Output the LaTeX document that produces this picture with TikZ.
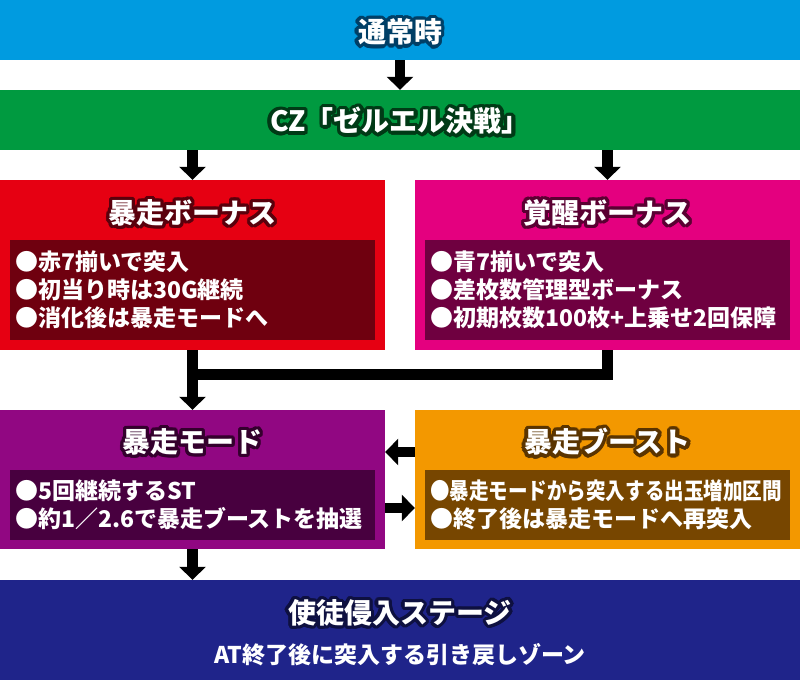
\documentclass[tikz,border=0pt]{standalone}
\usepackage{fontspec}
\setmainfont{Noto Sans CJK JP}
\usepackage{graphicx}
\usetikzlibrary{arrows.meta}
\definecolor{tsujoC}{HTML}{009BE0}
\definecolor{tsujoD}{HTML}{003F66}
\definecolor{czC}{HTML}{009A40}
\definecolor{czD}{HTML}{003A16}
\definecolor{bosoC}{HTML}{E60012}
\definecolor{bosoIn}{HTML}{6F000F}
\definecolor{bosoD}{HTML}{5A000C}
\definecolor{kakuseiC}{HTML}{E4007F}
\definecolor{kakuseiIn}{HTML}{6F0040}
\definecolor{kakuseiD}{HTML}{5A0032}
\definecolor{bmodeC}{HTML}{910782}
\definecolor{bmodeIn}{HTML}{48003F}
\definecolor{bmodeD}{HTML}{34002D}
\definecolor{boostC}{HTML}{F39800}
\definecolor{boostIn}{HTML}{774600}
\definecolor{boostD}{HTML}{5A3400}
\definecolor{shitoC}{HTML}{1F248A}
\definecolor{shitoD}{HTML}{0E1040}
% outlined title: name, position, outline colour, text
\newcommand\ttlnode[4]{%
  \foreach \a in {0,20,...,340}
    \node[head,text=#3] (#1-\a) at ([shift={(\a:3.4)}]#2) {#4};
  \node[head] (#1) at (#2) {#4};}
\begin{document}
\begin{tikzpicture}[x=1pt,y=-1pt,
    box/.style={rectangle,inner sep=0pt,draw=none},
    head/.style={inner sep=0pt,text=white,font=\bfseries\fontsize{28}{30}\selectfont},
    body/.style={rectangle,inner sep=5pt,text width=355pt,minimum height=#1,
      align=left,text=white,font=\bfseries\fontsize{23}{28}\selectfont},
    flow/.style={line width=10.5pt,-{Triangle[width=26pt,length=13pt]}},
    link/.style={line width=11pt,line join=miter}]
    \useasboundingbox (0,0) rectangle (800,680);
    % bars
    \node[box,fill=tsujoC,minimum width=800pt,minimum height=60pt] (tsujo) at (400,30) {};
    \ttlnode{tsujoT}{400,32}{tsujoD}{通常時}
    \node[box,fill=czC,minimum width=800pt,minimum height=60pt] (cz) at (400,120) {};
    \ttlnode{czT}{400,121}{czD}{CZ「ゼルエル決戦」}
    % bonus
    \node[box,fill=bosoC,minimum width=385pt,minimum height=170pt] (boso) at (192.5,265) {};
    \ttlnode{bosoT}{192.5,213}{bosoD}{暴走ボーナス}
    \node[body=100pt,fill=bosoIn] (bosoL) at (192.5,290)
      {●赤7揃いで突入\\●初当り時は30G継続\\●消化後は暴走モードへ};
    \node[box,fill=kakuseiC,minimum width=385pt,minimum height=170pt] (kakusei) at (607.5,265) {};
    \ttlnode{kakuseiT}{607.5,213}{kakuseiD}{覚醒ボーナス}
    \node[body=100pt,fill=kakuseiIn] (kakuseiL) at (607.5,290)
      {●青7揃いで突入\\●差枚数管理型ボーナス\\●初期枚数100枚+上乗せ2回保障};
    % mode
    \node[box,fill=bmodeC,minimum width=385pt,minimum height=139pt] (bmode) at (192.5,479.5) {};
    \ttlnode{bmodeT}{192.5,442}{bmodeD}{暴走モード}
    \node[body=70pt,fill=bmodeIn] (bmodeL) at (192.5,505)
      {●5回継続するST\\●約1／2.6で暴走ブーストを抽選};
    \node[box,fill=boostC,minimum width=385pt,minimum height=139pt] (boost) at (607.5,479.5) {};
    \ttlnode{boostT}{607.5,442}{boostD}{暴走ブースト}
    \node[body=70pt,fill=boostIn] (boostL) at (607.5,505)
      {\scalebox{0.85}[1]{●暴走モードから突入する出玉増加区間}\\●終了後は暴走モードへ再突入};
    % stage
    \node[box,fill=shitoC,minimum width=800pt,minimum height=100pt] (shito) at (400,630) {};
    \ttlnode{shitoT}{400,613}{shitoD}{使徒侵入ステージ}
    \node[text=white,inner sep=0pt,font=\bfseries\fontsize{23}{26}\selectfont] (shitoS) at (400,655)
      {AT終了後に突入する引き戻しゾーン};
    % arrows
    \coordinate (merge) at (192.5,374);
    \draw[flow] (tsujo.south) -- (cz.north);
    \draw[flow] (cz.south -| boso.north) -- (boso.north);
    \draw[flow] (cz.south -| kakusei.north) -- (kakusei.north);
    \draw[link] (kakusei.south) |- (merge);
    \draw[flow] (boso.south) -- (bmode.north);
    \draw[flow] ([yshift=27.5pt]boost.west) -- ([yshift=27.5pt]bmode.east);
    \draw[flow] ([yshift=-28.5pt]bmode.east) -- ([yshift=-28.5pt]boost.west);
    \draw[flow] (bmode.south) -- (bmode.south |- shito.north);
\end{tikzpicture}
\end{document}
